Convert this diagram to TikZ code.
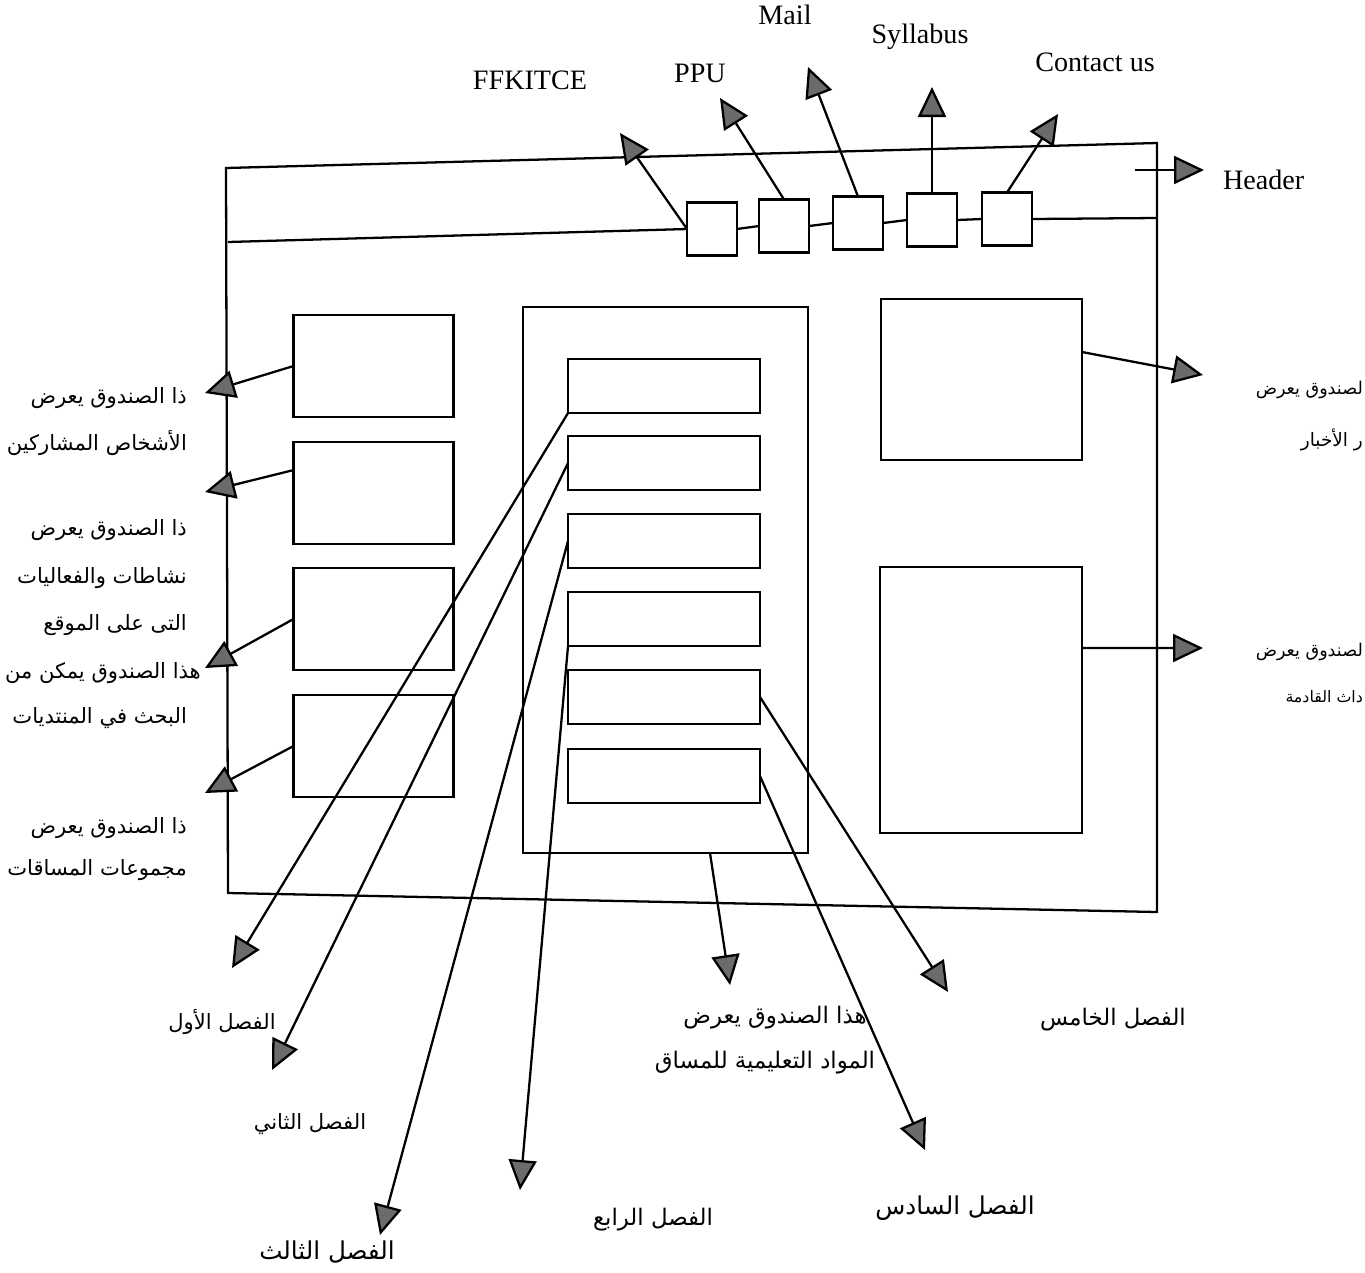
\documentclass[tikz,border=0pt]{standalone}
\usepackage{fontspec}
\setmainfont{Liberation Serif}
\newfontfamily\arabicfont[Script=Arabic]{DejaVu Sans}
\TeXXeTstate=1
\usetikzlibrary{arrows.meta}

\newcommand{\artxt}[1]{\beginR #1\endR}

\begin{document}
\begin{tikzpicture}[x=0.02cm, y=-0.02cm, line width=1.3pt,
    box/.style={draw, inner sep=0pt, outer sep=0pt},
    hbox/.style={box, minimum width=1cm, minimum height=1.06cm},
    lbox/.style={box, minimum width=3.2cm, minimum height=2.05cm},
    cbox/.style={box, minimum width=3.84cm, minimum height=1.08cm},
    ptr/.style={-{Triangle[length=0.6cm, width=0.56cm, fill=black!58]}},
    en/.style={font=\fontsize{16}{18}\selectfont},
    ar/.style={font=\arabicfont\fontsize{13}{15}\selectfont, inner sep=0pt},
    arside/.style={font=\arabicfont\fontsize{12}{14}\selectfont, inner sep=0pt, anchor=east},
    arsmall/.style={font=\arabicfont\fontsize{10}{12}\selectfont, inner sep=0pt, anchor=east},
    arbig/.style={font=\arabicfont\fontsize{14}{16}\selectfont, inner sep=0pt}]
    \useasboundingbox (0,0) rectangle (1365,1272);

    % Page frame and header strip
    \coordinate (tl) at (226,168);
    \coordinate (tr) at (1157,143);
    \coordinate (br) at (1157,912);
    \coordinate (bl) at (228,893);
    \draw (tl) -- (tr) -- (br) -- (bl) -- cycle;

    % Header links
    \node[hbox] (b1) at (712,229) {};
    \node[hbox] (b2) at (784,226) {};
    \node[hbox] (b3) at (858,223) {};
    \node[hbox] (b4) at (932,220) {};
    \node[hbox] (b5) at (1007,219) {};
    \coordinate (hl) at (228,242);
    \coordinate (hr) at (1157,218);
    \draw (hl) -- (b1.west);
    \draw (b1.east) -- (b2.west);
    \draw (b2.east) -- (b3.west);
    \draw (b3.east) -- (b4.west);
    \draw (b4.east) -- (b5.west);
    \draw (b5.east) -- (hr);

    \node[en] (ffk) at (530,80) {FFKITCE};
    \node[en] (ppu) at (700,73) {PPU};
    \node[en] (mail) at (785,15) {Mail};
    \node[en] (syl) at (920,37) {Syllabus};
    \node[en] (con) at (1095,62) {Contact us};
    \node[en, anchor=west] (head) at (1216,180) {Header};

    \coordinate (tffk) at (620,133);
    \coordinate (tppu) at (720,98);
    \coordinate (tmail) at (808,67);
    \coordinate (tsyl) at (932,87);
    \coordinate (tcon) at (1058,114);
    \coordinate (h0) at (1135,170);
    \coordinate (thead) at (1204,170);
    \draw[ptr] (b1.west) -- (tffk);
    \draw[ptr] (b2.north) -- (tppu);
    \draw[ptr] (b3.north) -- (tmail);
    \draw[ptr] (b4.north) -- (tsyl);
    \draw[ptr] (b5.north) -- (tcon);
    \draw[ptr] (h0) -- (thead);

    % Left column
    \node[lbox] (l1) at (373.5,366) {};
    \node[lbox] (l2) at (373.5,493) {};
    \node[lbox] (l3) at (373.5,619) {};
    \node[lbox] (l4) at (373.5,746) {};
    \coordinate (tl1) at (205,393);
    \coordinate (tl2) at (205,492);
    \coordinate (tl3) at (205,668);
    \coordinate (tl4) at (205,793);
    \draw[ptr] (l1.west) -- (tl1);
    \draw[ptr] (l2.164) -- (tl2);
    \draw[ptr] (l3.west) -- (tl3);
    \draw[ptr] (l4.west) -- (tl4);

    \node[arside] (a1) at (188,398) {\artxt{ذا الصندوق يعرض}};
    \node[arside] (a2) at (188,443) {\artxt{الأشخاص المشاركين}};
    \node[arside] (a3) at (188,530) {\artxt{ذا الصندوق يعرض}};
    \node[arside] (a4) at (188,578) {\artxt{نشاطات والفعاليات}};
    \node[arside] (a5) at (188,625) {\artxt{التى على الموقع}};
    \node[arside] (a6) at (202,673) {\artxt{هذا الصندوق يمكن من}};
    \node[arside] (a7) at (188,718) {\artxt{البحث في المنتديات}};
    \node[arside] (a8) at (188,828) {\artxt{ذا الصندوق يعرض}};
    \node[arside] (a9) at (188,870) {\artxt{مجموعات المساقات}};

    % Middle column
    \node[box, minimum width=5.7cm, minimum height=10.92cm] (mid) at (665.5,580) {};
    \node[cbox] (c1) at (664,386) {};
    \node[cbox] (c2) at (664,463) {};
    \node[cbox] (c3) at (664,541) {};
    \node[cbox] (c4) at (664,619) {};
    \node[cbox] (c5) at (664,697) {};
    \node[cbox] (c6) at (664,776) {};
    \coordinate (tc1) at (232,968);
    \coordinate (tc2) at (272,1070);
    \coordinate (tc3) at (380,1235);
    \coordinate (tc4) at (520,1190);
    \coordinate (tmid) at (730,985);
    \coordinate (tc5) at (948,992);
    \coordinate (tc6) at (925,1150);
    \draw[ptr] (c1.south west) -- (tc1);
    \draw[ptr] (c2.west) -- (tc2);
    \draw[ptr] (c3.west) -- (tc3);
    \draw[ptr] (c4.south west) -- (tc4);
    \draw[ptr] ([xshift=0.89cm]mid.south) -- (tmid);
    \draw[ptr] (c5.east) -- (tc5);
    \draw[ptr] (c6.east) -- (tc6);

    \node[ar, font=\arabicfont\fontsize{12}{14}\selectfont] (f1) at (222,1022) {\artxt{الفصل الأول}};
    \node[ar, font=\arabicfont\fontsize{12}{14}\selectfont] (f2) at (310,1124) {\artxt{الفصل الثاني}};
    \node[arbig] (f3) at (327,1252) {\artxt{الفصل الثالث}};
    \node[ar] (f4) at (653,1220) {\artxt{الفصل الرابع}};
    \node[ar] (m1) at (775,1018) {\artxt{هذا الصندوق يعرض}};
    \node[ar] (m2) at (765,1063) {\artxt{المواد التعليمية للمساق}};
    \node[ar] (f5) at (1113,1020) {\artxt{الفصل الخامس}};
    \node[arbig] (f6) at (955,1208) {\artxt{الفصل السادس}};

    % Right column
    \node[box, minimum width=4.02cm, minimum height=3.22cm] (r1) at (981.5,379.5) {};
    \node[box, minimum width=4.04cm, minimum height=5.32cm] (r2) at (981,700) {};
    \coordinate (tr1) at (1203,375);
    \coordinate (tr2) at (1203,648);
    \draw[ptr] ([yshift=0.55cm]r1.east) -- (tr1);
    \draw[ptr] ([yshift=1.04cm]r2.east) -- (tr2);

    \node[arsmall, font=\arabicfont\fontsize{10}{12}\selectfont] (n1) at (1364,390) {\artxt{لصندوق يعرض}};
    \node[arsmall, font=\arabicfont\fontsize{10.5}{12}\selectfont] (n2) at (1364,440) {\artxt{ر الأخبار}};
    \node[arsmall, font=\arabicfont\fontsize{10}{12}\selectfont] (n3) at (1364,652) {\artxt{لصندوق يعرض}};
    \node[arsmall, font=\arabicfont\fontsize{9}{11}\selectfont] (n4) at (1364,697) {\artxt{داث القادمة}};
\end{tikzpicture}
\end{document}
